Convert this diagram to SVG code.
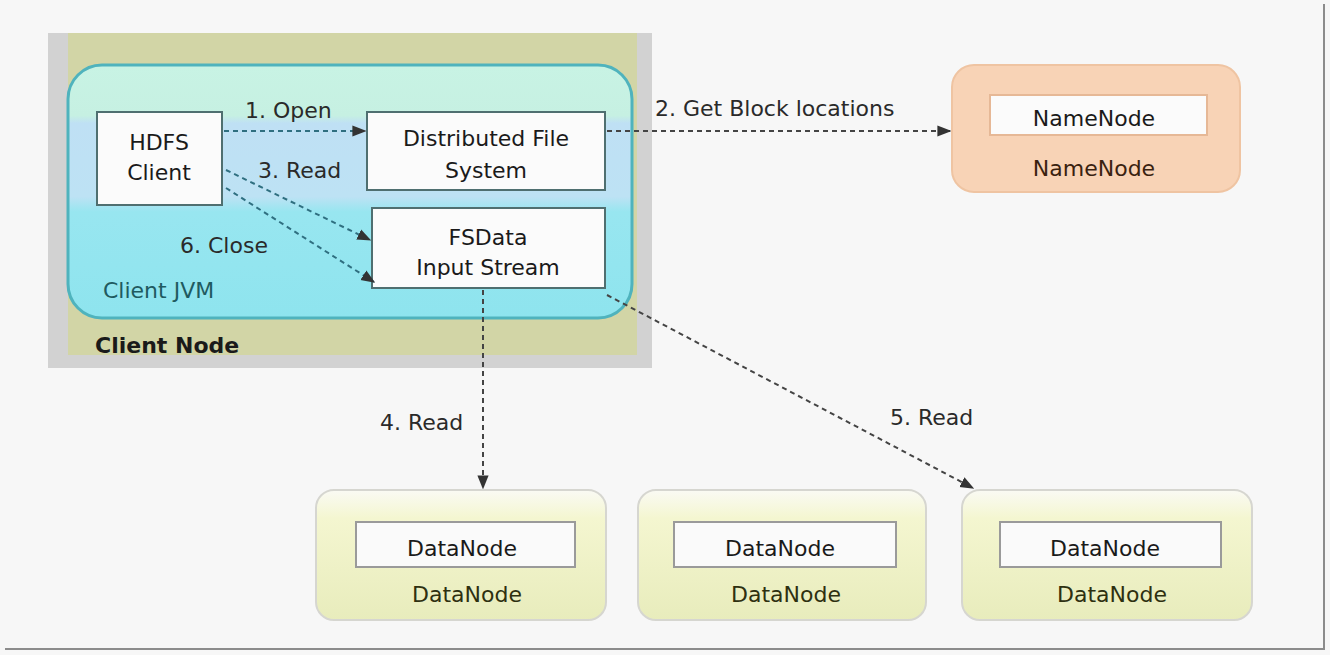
<svg xmlns="http://www.w3.org/2000/svg" width="1330" height="655" viewBox="0 0 1330 655">
<defs>
<linearGradient id="jvm" x1="0" y1="0" x2="0" y2="1">
<stop offset="0" stop-color="#c8f3e4"/>
<stop offset="0.2" stop-color="#c6f0e2"/>
<stop offset="0.23" stop-color="#bfe0f4"/>
<stop offset="0.52" stop-color="#bde2f4"/>
<stop offset="0.58" stop-color="#98e6f0"/>
<stop offset="1" stop-color="#8ee4ee"/>
</linearGradient>
<linearGradient id="dn" x1="0" y1="0" x2="0" y2="1">
<stop offset="0" stop-color="#fafaf4"/>
<stop offset="0.22" stop-color="#f4f6d0"/>
<stop offset="1" stop-color="#e8ecbc"/>
</linearGradient>
<marker id="ah" viewBox="0 0 10 10" refX="9" refY="5" markerWidth="7" markerHeight="7" orient="auto-start-reverse">
<path d="M0,1 L10,5 L0,9 z" fill="#333"/>
</marker>
</defs>
<style>
text{font-family:"DejaVu Sans","Liberation Sans",sans-serif;font-size:22px;fill:#1a1a1a;}
.c{text-anchor:middle;}
.box{fill:#fbfbfb;stroke:#4f6f70;stroke-width:2;}
.dnbox{fill:#fafafa;stroke:#9a9a9a;stroke-width:2;}
.conn{fill:none;stroke:#444;stroke-width:2;stroke-dasharray:5 4;marker-end:url(#ah);}
.lbl{fill:#2a2a2a;}
</style>
<rect x="0" y="0" width="1330" height="655" fill="#f7f7f7"/>
<path d="M1324 4 V649 H5" fill="none" stroke="#8c8c8c" stroke-width="2"/>

<g id="client-node">
<rect x="48" y="33" width="604" height="335" fill="#d2d2d2"/>
<rect x="68" y="33" width="569" height="322" fill="#d2d5a6"/>
<text x="95" y="353" style="font-weight:bold">Client Node</text>
</g>

<g id="client-jvm">
<rect x="68" y="65" width="564" height="253" rx="34" fill="url(#jvm)" stroke="#4fb3bd" stroke-width="3"/>
<text x="103" y="298" style="fill:#1f5a60">Client JVM</text>
</g>

<g id="hdfs-client">
<rect class="box" x="97" y="112" width="125" height="93"/>
<text class="c" x="159" y="150">HDFS</text>
<text class="c" x="159" y="180">Client</text>
</g>

<g id="dfs">
<rect class="box" x="367" y="112" width="238" height="78"/>
<text class="c" x="486" y="146">Distributed File</text>
<text class="c" x="486" y="178">System</text>
</g>

<g id="fsdata">
<rect class="box" x="372" y="208" width="233" height="80"/>
<text class="c" x="488" y="245">FSData</text>
<text class="c" x="488" y="275">Input Stream</text>
</g>

<g id="namenode">
<rect x="952" y="65" width="288" height="127" rx="22" fill="#f8d3b6" stroke="#efc4a2" stroke-width="2"/>
<rect x="990" y="95" width="217" height="40" fill="#fbfbfb" stroke="#e6b896" stroke-width="2"/>
<text class="c" x="1094" y="126">NameNode</text>
<text class="c" x="1094" y="176" style="fill:#3a2210">NameNode</text>
</g>

<g id="datanode1">
<rect x="316" y="490" width="290" height="130" rx="18" fill="url(#dn)" stroke="#d6d6d0" stroke-width="2"/>
<rect class="dnbox" x="356" y="522" width="219" height="45"/>
<text class="c" x="462" y="556">DataNode</text>
<text class="c" x="467" y="602" style="fill:#2e3010">DataNode</text>
</g>

<g id="datanode2">
<rect x="638" y="490" width="288" height="130" rx="18" fill="url(#dn)" stroke="#d6d6d0" stroke-width="2"/>
<rect class="dnbox" x="674" y="522" width="222" height="45"/>
<text class="c" x="780" y="556">DataNode</text>
<text class="c" x="786" y="602" style="fill:#2e3010">DataNode</text>
</g>

<g id="datanode3">
<rect x="962" y="490" width="290" height="130" rx="18" fill="url(#dn)" stroke="#d6d6d0" stroke-width="2"/>
<rect class="dnbox" x="1000" y="522" width="221" height="45"/>
<text class="c" x="1105" y="556">DataNode</text>
<text class="c" x="1112" y="602" style="fill:#2e3010">DataNode</text>
</g>

<g id="connectors">
<path class="conn" d="M224 131 H365" style="stroke:#2f6f80"/>
<text class="lbl" x="245" y="118">1. Open</text>
<path class="conn" d="M607 131 H950"/>
<text class="lbl" x="655" y="116">2. Get Block locations</text>
<path class="conn" d="M226 170 L370 240" style="stroke:#2f6f80"/>
<text class="lbl" x="258" y="178">3. Read</text>
<path class="conn" d="M226 188 L374 282" style="stroke:#2f6f80"/>
<text class="lbl" x="180" y="253">6. Close</text>
<path class="conn" d="M483 290 V488"/>
<text class="lbl" x="380" y="430">4. Read</text>
<path class="conn" d="M607 295 L973 488"/>
<text class="lbl" x="890" y="425">5. Read</text>
</g>
</svg>
